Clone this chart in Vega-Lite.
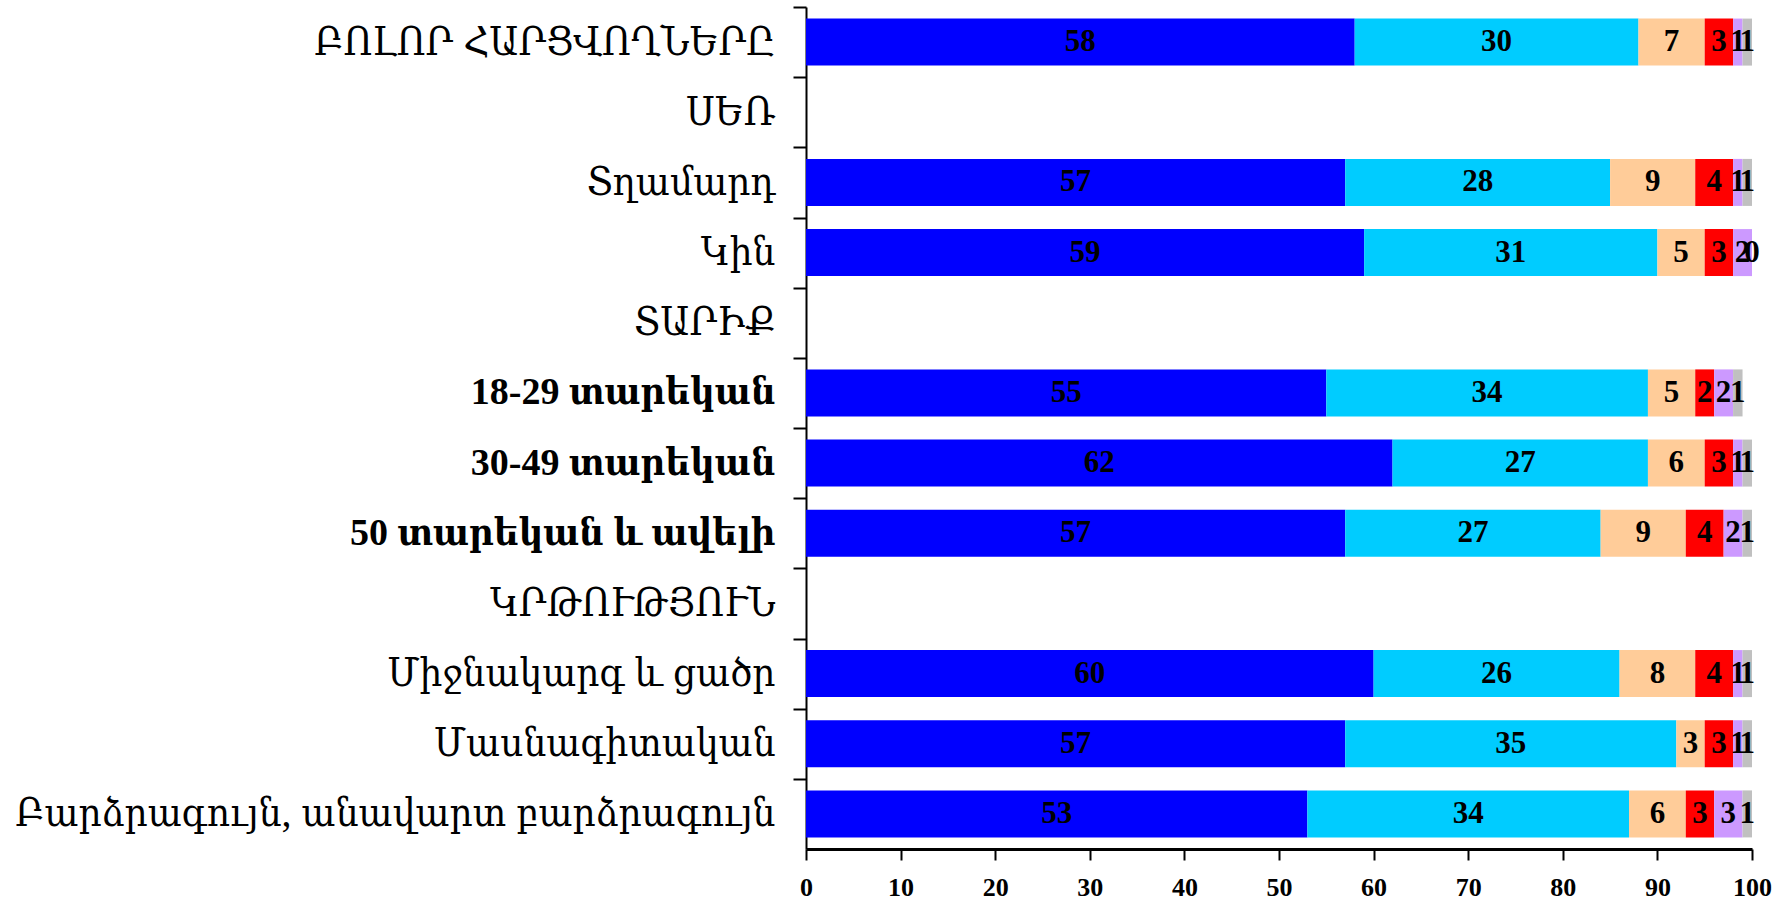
{
  "$schema": "https://vega.github.io/schema/vega-lite/v6.json",
  "autosize": {"type": "none"},
  "padding": {"left": 806, "top": 7, "right": 34, "bottom": 53},
  "width": 946,
  "height": 842,
  "background": "white",
  "config": {"view": {"stroke": null}},
  "data": {"values": [
    {"cat": "ԲՈԼՈՐ ՀԱՐՑՎՈՂՆԵՐԸ\u00a0", "k": 1, "v": 58},
    {"cat": "ԲՈԼՈՐ ՀԱՐՑՎՈՂՆԵՐԸ\u00a0", "k": 2, "v": 30},
    {"cat": "ԲՈԼՈՐ ՀԱՐՑՎՈՂՆԵՐԸ\u00a0", "k": 3, "v": 7},
    {"cat": "ԲՈԼՈՐ ՀԱՐՑՎՈՂՆԵՐԸ\u00a0", "k": 4, "v": 3},
    {"cat": "ԲՈԼՈՐ ՀԱՐՑՎՈՂՆԵՐԸ\u00a0", "k": 5, "v": 1},
    {"cat": "ԲՈԼՈՐ ՀԱՐՑՎՈՂՆԵՐԸ\u00a0", "k": 6, "v": 1},
    {"cat": "Տղամարդ", "k": 1, "v": 57},
    {"cat": "Տղամարդ", "k": 2, "v": 28},
    {"cat": "Տղամարդ", "k": 3, "v": 9},
    {"cat": "Տղամարդ", "k": 4, "v": 4},
    {"cat": "Տղամարդ", "k": 5, "v": 1},
    {"cat": "Տղամարդ", "k": 6, "v": 1},
    {"cat": "Կին", "k": 1, "v": 59},
    {"cat": "Կին", "k": 2, "v": 31},
    {"cat": "Կին", "k": 3, "v": 5},
    {"cat": "Կին", "k": 4, "v": 3},
    {"cat": "Կին", "k": 5, "v": 2},
    {"cat": "Կին", "k": 6, "v": 0},
    {"cat": "18-29 տարեկան", "k": 1, "v": 55},
    {"cat": "18-29 տարեկան", "k": 2, "v": 34},
    {"cat": "18-29 տարեկան", "k": 3, "v": 5},
    {"cat": "18-29 տարեկան", "k": 4, "v": 2},
    {"cat": "18-29 տարեկան", "k": 5, "v": 2},
    {"cat": "18-29 տարեկան", "k": 6, "v": 1},
    {"cat": "30-49 տարեկան", "k": 1, "v": 62},
    {"cat": "30-49 տարեկան", "k": 2, "v": 27},
    {"cat": "30-49 տարեկան", "k": 3, "v": 6},
    {"cat": "30-49 տարեկան", "k": 4, "v": 3},
    {"cat": "30-49 տարեկան", "k": 5, "v": 1},
    {"cat": "30-49 տարեկան", "k": 6, "v": 1},
    {"cat": "50 տարեկան և ավելի", "k": 1, "v": 57},
    {"cat": "50 տարեկան և ավելի", "k": 2, "v": 27},
    {"cat": "50 տարեկան և ավելի", "k": 3, "v": 9},
    {"cat": "50 տարեկան և ավելի", "k": 4, "v": 4},
    {"cat": "50 տարեկան և ավելի", "k": 5, "v": 2},
    {"cat": "50 տարեկան և ավելի", "k": 6, "v": 1},
    {"cat": "Միջնակարգ և ցածր", "k": 1, "v": 60},
    {"cat": "Միջնակարգ և ցածր", "k": 2, "v": 26},
    {"cat": "Միջնակարգ և ցածր", "k": 3, "v": 8},
    {"cat": "Միջնակարգ և ցածր", "k": 4, "v": 4},
    {"cat": "Միջնակարգ և ցածր", "k": 5, "v": 1},
    {"cat": "Միջնակարգ և ցածր", "k": 6, "v": 1},
    {"cat": "Մասնագիտական", "k": 1, "v": 57},
    {"cat": "Մասնագիտական", "k": 2, "v": 35},
    {"cat": "Մասնագիտական", "k": 3, "v": 3},
    {"cat": "Մասնագիտական", "k": 4, "v": 3},
    {"cat": "Մասնագիտական", "k": 5, "v": 1},
    {"cat": "Մասնագիտական", "k": 6, "v": 1},
    {"cat": "Բարձրագույն, անավարտ բարձրագույն", "k": 1, "v": 53},
    {"cat": "Բարձրագույն, անավարտ բարձրագույն", "k": 2, "v": 34},
    {"cat": "Բարձրագույն, անավարտ բարձրագույն", "k": 3, "v": 6},
    {"cat": "Բարձրագույն, անավարտ բարձրագույն", "k": 4, "v": 3},
    {"cat": "Բարձրագույն, անավարտ բարձրագույն", "k": 5, "v": 3},
    {"cat": "Բարձրագույն, անավարտ բարձրագույն", "k": 6, "v": 1}
  ]},
  "transform": [
    {"stack": "v", "groupby": ["cat"], "sort": [{"field": "k", "order": "ascending"}], "as": ["s0", "s1"]},
    {"calculate": "(datum.s0 + datum.s1) / 2", "as": "sm"}
  ],
  "layer": [
    {
      "mark": {"type": "bar"},
      "encoding": {
        "y": {
          "field": "cat", "type": "nominal",
          "scale": {
            "domain": ["ԲՈԼՈՐ ՀԱՐՑՎՈՂՆԵՐԸ\u00a0", "ՍԵՌ", "Տղամարդ", "Կին", "ՏԱՐԻՔ", "18-29 տարեկան", "30-49 տարեկան", "50 տարեկան և ավելի", "ԿՐԹՈՒԹՅՈՒՆ", "Միջնակարգ և ցածր", "Մասնագիտական", "Բարձրագույն, անավարտ բարձրագույն"],
            "paddingInner": 0.33, "paddingOuter": 0.165
          },
          "axis": {
            "title": null,
            "domainColor": "black", "domainWidth": 2,
            "tickOffset": -35,
            "labelOffset": 35,
            "tickColor": "black", "tickWidth": 2, "tickSize": 13,
            "labelFont": "Liberation Serif, DejaVu Serif Condensed, DejaVu Serif",
            "labelFontSize": {"condition": {"test": "indexof(datum.value, 'տարեկան') >= 0", "value": 38}, "value": 40},
            "labelFontWeight": {"condition": {"test": "indexof(datum.value, 'տարեկան') >= 0", "value": "bold"}, "value": "normal"},
            "labelColor": "black",
            "labelPadding": 18,
            "labelLimit": 0
          }
        },
        "x": {
          "field": "s0", "type": "quantitative",
          "scale": {"domain": [0, 100], "nice": false},
          "axis": {
            "title": null, "values": [0, 10, 20, 30, 40, 50, 60, 70, 80, 90, 100],
            "grid": false,
            "domainColor": "black", "domainWidth": 3,
            "tickColor": "black", "tickWidth": 2, "tickSize": 11,
            "labelFont": "Liberation Serif", "labelFontSize": 26, "labelFontWeight": "bold",
            "labelColor": "black", "labelPadding": 14, "labelFlush": false, "labelOverlap": false
          }
        },
        "x2": {"field": "s1"},
        "color": {
          "field": "k", "type": "nominal", "legend": null,
          "scale": {"domain": [1, 2, 3, 4, 5, 6], "range": ["#0000FF", "#00CCFF", "#FFCC99", "#FF0000", "#CC99FF", "#C0C0C0"]}
        }
      }
    },
    {
      "mark": {"type": "text", "font": "Liberation Serif", "fontSize": 31, "fontWeight": "bold", "color": "black", "baseline": "middle", "align": "center"},
      "encoding": {
        "y": {"field": "cat", "type": "nominal"},
        "x": {"field": "sm", "type": "quantitative"},
        "text": {"field": "v", "type": "quantitative"}
      }
    }
  ]
}
